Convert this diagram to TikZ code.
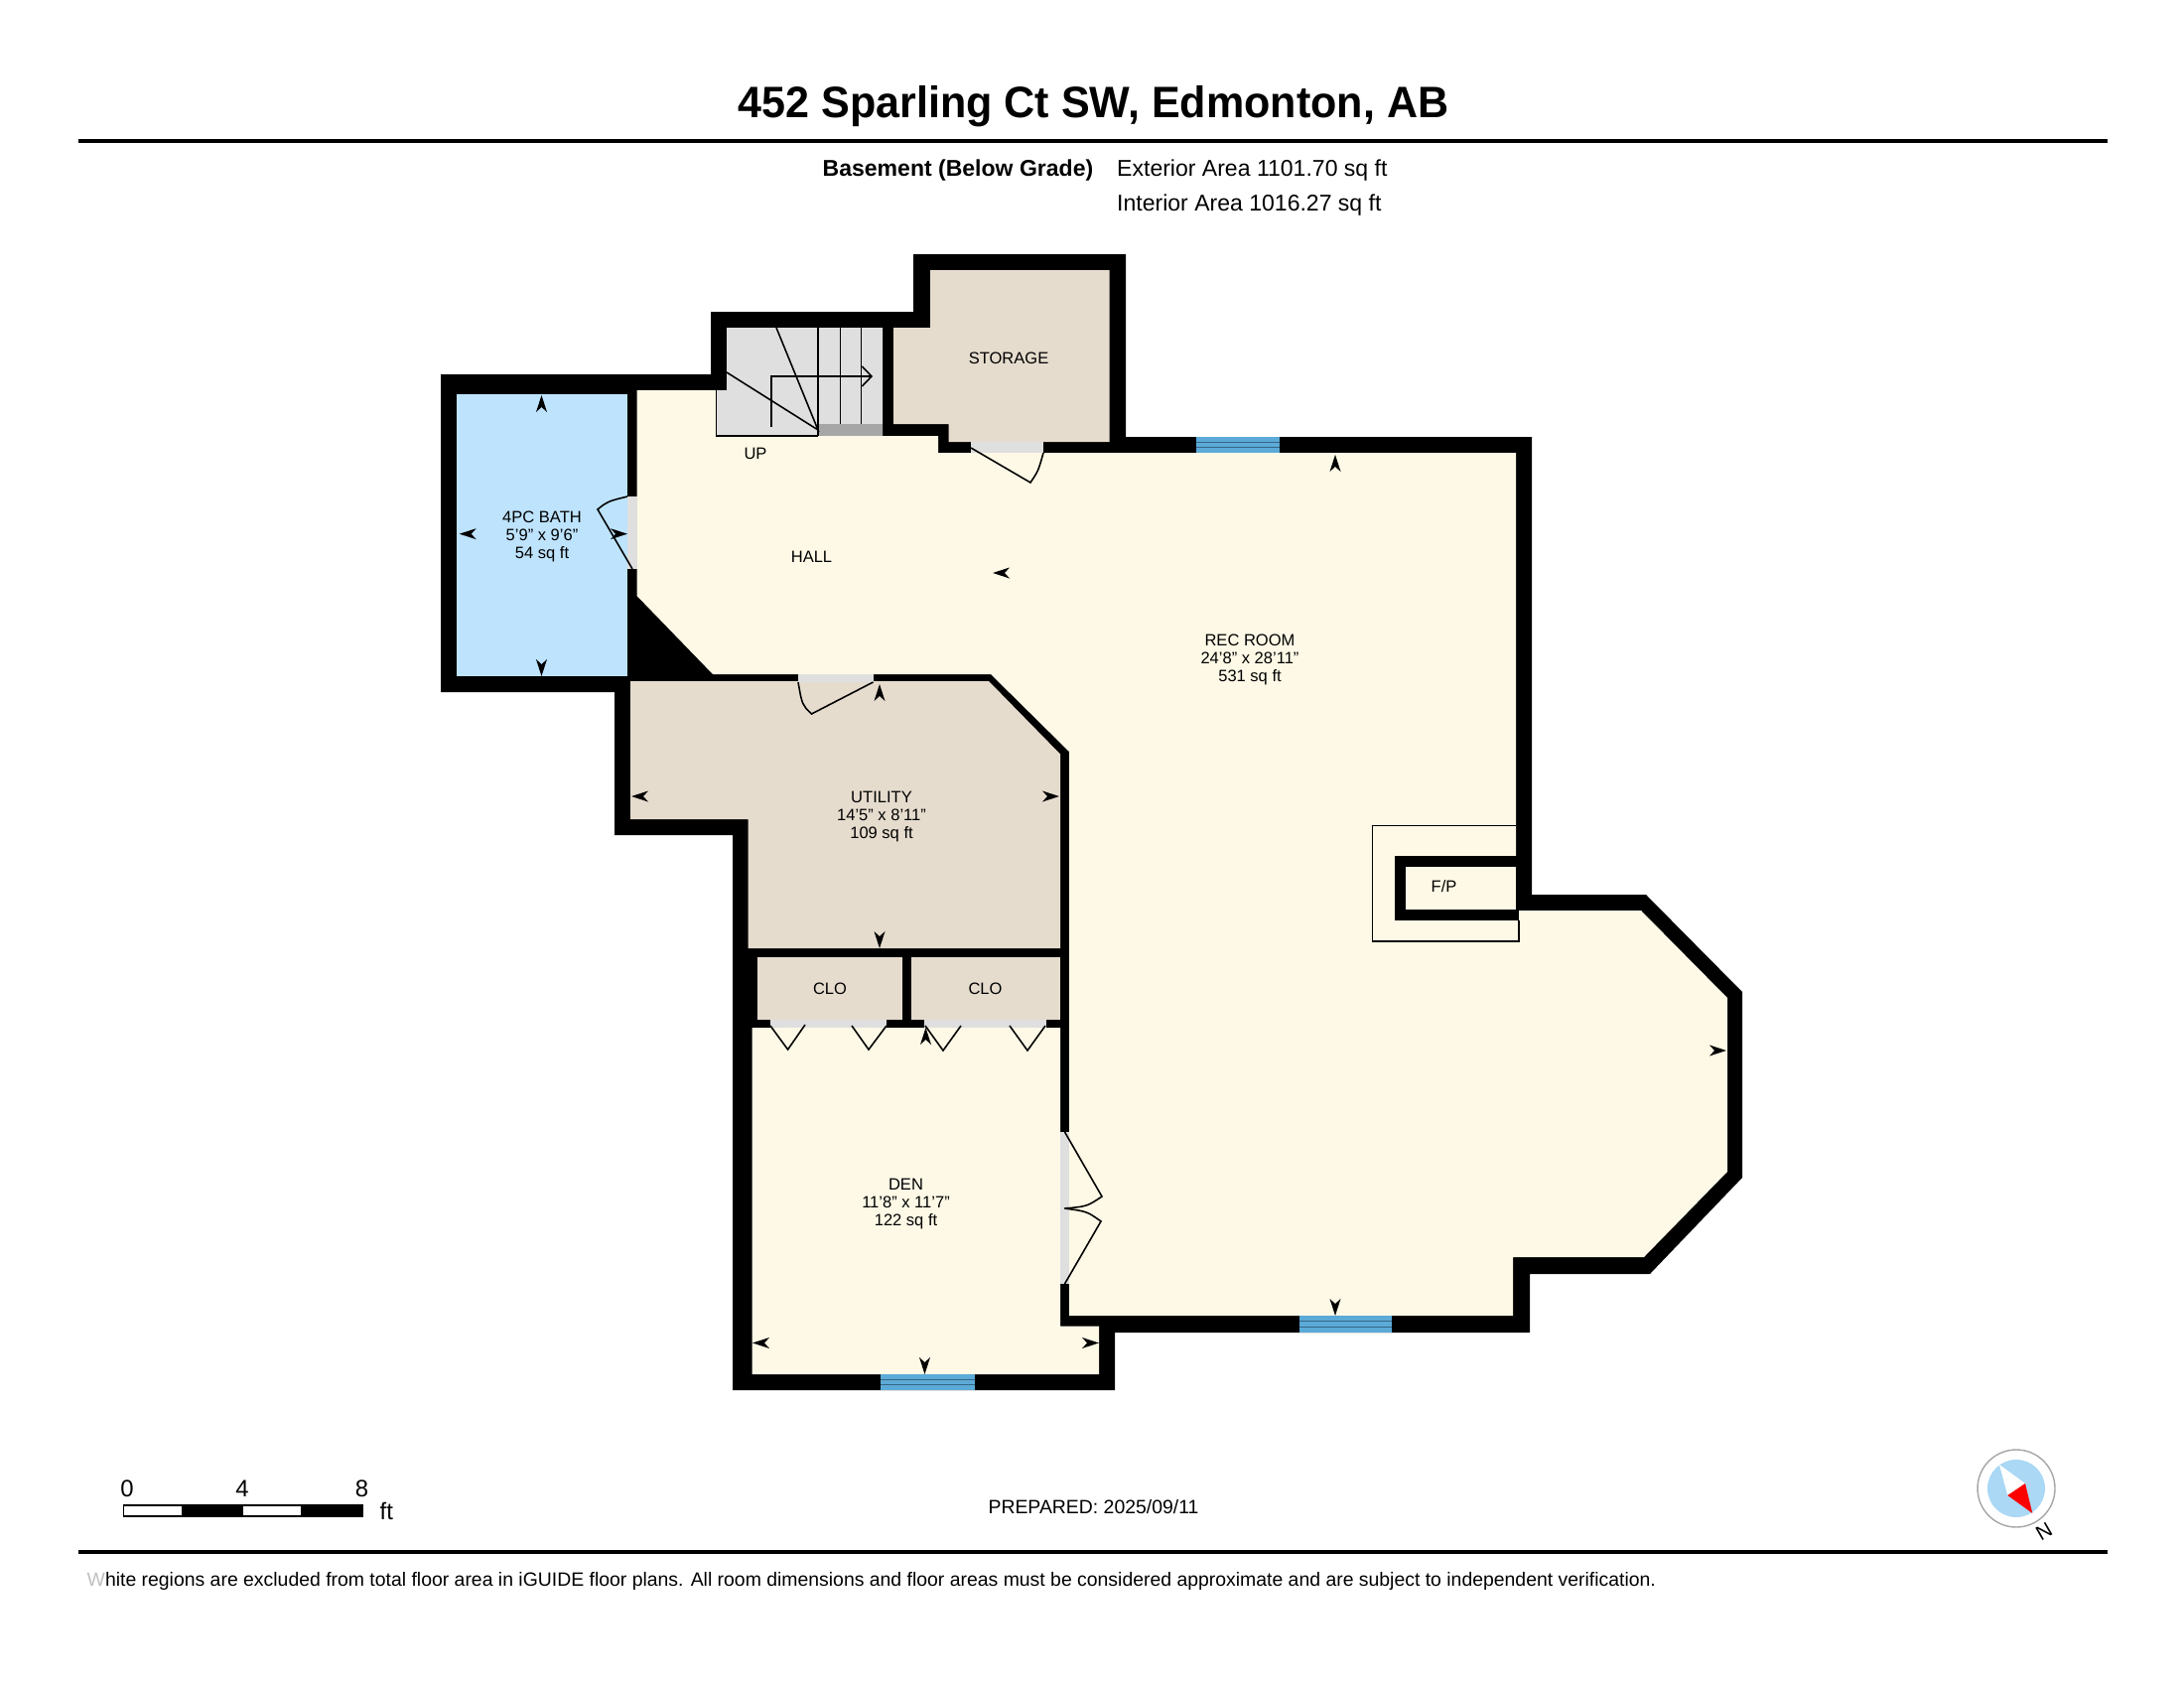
\documentclass[tikz,border=0pt]{standalone}
\usepackage{fontspec}
\setmainfont{Liberation Sans}
\definecolor{floorcream}{HTML}{FEF9E6}
\definecolor{floorbeige}{HTML}{E6DCCE}
\definecolor{floorblue}{HTML}{BDE3FD}
\definecolor{windowblue}{HTML}{5BAAD8}
\definecolor{stairgrey}{HTML}{DFDFDF}
\definecolor{compassblue}{HTML}{AAD8F5}
\tikzset{
  roomlabel/.style={align=center,inner sep=0pt,font=\fontsize{4.7}{5.12}\selectfont},
  sheettext/.style={inner sep=0pt,font=\fontsize{5.52}{7}\selectfont},
  headtext/.style={inner sep=0pt,font=\fontsize{6.55}{8}\selectfont},
  doorleaf/.style={line width=0.45pt},
  doorgap/.style={fill=stairgrey}
}
% small dart used as dimension mark: tip at the origin, pointing along +x
\newcommand{\dimmark}[3]{\fill[shift={(#1,#2)},rotate=#3] (0,0) -- (-17,5.5) -- (-12,0) -- (-17,-5.5) -- cycle;}
\begin{document}
\begin{tikzpicture}[x=0.01cm,y=-0.01cm]
\useasboundingbox (0,0) rectangle (2200,1700);

% walls
\fill[black] (444,377) -- (716,377) -- (716,314) -- (920,314) -- (920,256) -- (1134,256)
  -- (1134,440) -- (1543,440) -- (1543,901) -- (1658,901) -- (1755,999) -- (1755,1186)
  -- (1662,1283) -- (1541,1283) -- (1541,1342) -- (1123,1342) -- (1123,1400) -- (738,1400)
  -- (738,841) -- (619,841) -- (619,697) -- (444,697) -- cycle;

% rooms
\fill[floorblue] (460,397) rectangle (632,681);
\fill[floorcream] (641.5,393) -- (721.5,393) -- (721.5,439) -- (945,439) -- (945,456) -- (1527,456)
  -- (1527,917) -- (1653,917) -- (1740,1005) -- (1740,1180) -- (1656,1266) -- (1524,1266)
  -- (1524,1325) -- (1077,1325) -- (1077,757) -- (998,679) -- (718,679) -- (641.5,600) -- cycle;
\fill[floorbeige] (635,686) -- (996,686) -- (1068,759.5) -- (1068,955) -- (753.6,955) -- (753.6,825) -- (635,825) -- cycle;
\fill[floorbeige] (762.5,963.5) rectangle (909,1027);
\fill[floorbeige] (917.5,963.5) rectangle (1068,1027);
\fill[floorcream] (757.5,1035) -- (1068,1035) -- (1068,1335.6) -- (1107,1335.6) -- (1107,1384) -- (757.5,1384) -- cycle;
\fill[floorbeige] (900,330) -- (937,330) -- (937,272) -- (1117.5,272) -- (1117.5,445) -- (955.6,445) -- (955.6,427) -- (900,427) -- cycle;

% stairs
\fill[stairgrey] (732,330) -- (889,330) -- (889,439) -- (721.5,439) -- (721.5,393) -- (732,393) -- cycle;
\fill[gray!70] (824,427) rectangle (889,439);
\draw[line width=0.45pt] (721.5,393) -- (721.5,439) -- (824,439);
\draw[line width=0.45pt] (824,330) -- (824,439);
\foreach \x in {846.6,867.4}
  \draw[line width=0.45pt] (\x,330) -- (\x,427);
\draw[line width=0.45pt] (782,330) -- (824,433) -- (732,375);
\draw[line width=0.45pt] (777,430) -- (777,379) -- (878,379);
\draw[line width=0.45pt] (868.4,369) -- (878,379) -- (868.4,389);

% fireplace
\fill[black] (1405,862) rectangle (1529.5,927);
\fill[floorcream] (1416,873) rectangle (1527,916);
\draw[line width=0.3pt] (1527,831.5) -- (1382.6,831.5) -- (1382.6,948) -- (1530,948) -- (1530,927);

% doors
\fill[doorgap] (978,445) rectangle (1051,456);
\draw[doorleaf] (978,451) -- (1038,486) .. controls (1046,474) .. (1051,456);
\fill[doorgap] (632,500) rectangle (641.5,573);
\draw[doorleaf] (637,573) -- (602,513) .. controls (612,505) .. (632,500);
\fill[doorgap] (804,679) rectangle (879.5,687);
\draw[doorleaf] (879.5,687) -- (817.5,719) .. controls (808,710) .. (804,687);
\fill[doorgap] (776,1027) rectangle (893,1035);
\fill[doorgap] (931,1027) rectangle (1053.6,1035);
\draw[doorleaf] (776,1033) -- (793.6,1057) -- (811,1032);
\draw[doorleaf] (858,1033) -- (875,1057) -- (893,1033);
\draw[doorleaf] (932,1033) -- (950,1058) -- (968,1033);
\draw[doorleaf] (1017,1033) -- (1035,1058) -- (1053,1033);
\fill[doorgap] (1068,1140) rectangle (1077,1293);
\draw[doorleaf] (1072.5,1140) -- (1110,1205) .. controls (1095,1215) .. (1072.5,1217);
\draw[doorleaf] (1072.5,1293) -- (1109,1230) .. controls (1095,1220) .. (1072.5,1217);

% windows
\foreach \xa/\xb/\ya/\yb in {1205/1289/440/456,1309/1402/1325/1342,887/982/1384/1400}{
  \fill[windowblue] (\xa,\ya) rectangle (\xb,\yb);
  \draw[line width=0.3pt,windowblue!60!black] (\xa,{\ya+(\yb-\ya)/3}) -- (\xb,{\ya+(\yb-\ya)/3});
  \draw[line width=0.3pt,windowblue!60!black] (\xa,{\ya+2*(\yb-\ya)/3}) -- (\xb,{\ya+2*(\yb-\ya)/3});
}

% dimension marks
\foreach \mx/\my/\ang in {545.5/398/90,545.5/681/-90,462.7/537.7/180,632/537.7/0,
  1000/577/180,886/689/90,886/955/-90,636/802/180,1067/802/0,
  932.5/1035/90,758/1352.5/180,1107/1352.5/0,931.5/1384/-90,
  1739/1058/0,1345/1325/-90,1345/458/90}{
  \dimmark{\mx}{\my}{\ang}
}

% room labels
\node[roomlabel] (storage) at (1016,361) {STORAGE};
\node[roomlabel] (up) at (761,457) {UP};
\node[roomlabel] (hall) at (817.5,561) {HALL};
\node[roomlabel] (bath) at (546,540) {4PC BATH\\5'9" x 9'6"\\54 sq ft};
\node[roomlabel] (rec) at (1259,664) {REC ROOM\\24'8" x 28'11"\\531 sq ft};
\node[roomlabel] (utility) at (888,823) {UTILITY\\14'5" x 8'11"\\109 sq ft};
\node[roomlabel] (cloa) at (836,995.5) {CLO};
\node[roomlabel] (clob) at (992.5,995.5) {CLO};
\node[roomlabel] (den) at (912.5,1213) {DEN\\11'8" x 11'7"\\122 sq ft};
\node[roomlabel] (fp) at (1454.5,892.5) {F/P};

% heading
\node[inner sep=0pt,xscale=0.972,font=\fontsize{12.6}{15}\selectfont\bfseries] (title) at (1101.5,107) {452 Sparling Ct SW, Edmonton, AB};
\fill (79,140) rectangle (2123,144);
\node[headtext,anchor=base east,font=\fontsize{6.55}{8}\selectfont\bfseries] (level) at (1102,177.5) {Basement (Below Grade)};
\node[headtext,anchor=base west] (extarea) at (1124.5,177.5) {Exterior Area 1101.70 sq ft};
\node[headtext,anchor=base west] (intarea) at (1124.5,212.5) {Interior Area 1016.27 sq ft};

% scale bar
\draw[line width=0.35pt,fill=white] (124.3,1516) rectangle (365,1527);
\fill (182.7,1516) rectangle (245,1527);
\fill (302.7,1516) rectangle (365,1527);
\foreach \lx/\lab in {128/0,244/4,364.5/8}
  \node[inner sep=0pt,anchor=base,font=\fontsize{6.8}{8}\selectfont] (scale\lab) at (\lx,1507) {\lab};
\node[inner sep=0pt,anchor=base west,font=\fontsize{6.8}{8}\selectfont] (scaleft) at (382,1530) {ft};

\node[sheettext] (prepared) at (1101.5,1518) {PREPARED: 2025/09/11};

% compass
\draw[line width=0.4pt,draw=gray!70,fill=white] (2031,1499) circle (39);
\fill[compassblue] (2031,1499) circle (29);
\fill[white] (2014,1475) -- (2040,1494) -- (2022.3,1506) -- cycle;
\fill[red] (2040,1494) -- (2047.3,1524) -- (2022.3,1506) -- cycle;
\node[sheettext,font=\fontsize{5.9}{7}\selectfont,rotate=-150] (north) at (2059,1542) {N};

% footer
\fill (79,1561) rectangle (2123,1565);
\node[sheettext,anchor=base west] (note) at (87,1597) {\textcolor{gray!50}{W}hite regions are excluded from total floor area in iGUIDE floor plans. All room dimensions and floor areas must be considered approximate and are subject to independent verification.};
\end{tikzpicture}
\end{document}
